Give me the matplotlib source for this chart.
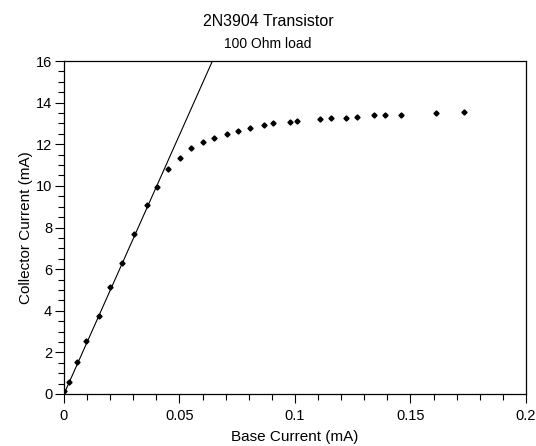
import numpy as np
import matplotlib
matplotlib.use("Agg")
import matplotlib.pyplot as plt
from matplotlib.ticker import MultipleLocator

plt.rcParams['font.family'] = ['Liberation Sans', 'DejaVu Sans']

# measured base / collector currents (mA)
base_current = [0.0, 0.002, 0.0058, 0.0095, 0.0152, 0.020, 0.025, 0.0302, 0.0359,
                0.0402, 0.0452, 0.0502, 0.0551, 0.060, 0.0649, 0.0706, 0.0755,
                0.0805, 0.0866, 0.0903, 0.0977, 0.1008, 0.1107, 0.1156, 0.1219,
                0.1267, 0.1342, 0.1391, 0.1459, 0.1612, 0.173]
collector_current = [0.12, 0.6, 1.55, 2.56, 3.75, 5.13, 6.28, 7.71, 9.1,
                     9.93, 10.8, 11.35, 11.84, 12.1, 12.31, 12.51, 12.66,
                     12.78, 12.92, 13.0, 13.06, 13.13, 13.19, 13.27, 13.27,
                     13.33, 13.4, 13.4, 13.4, 13.48, 13.54]

# linear fit through the active region (gain ~ hFE)
gain = 249.0
fit_x = [0.0, 0.2]

fig = plt.figure(figsize=(5.36, 4.46), dpi=100)
ax = fig.add_axes([0.1194, 0.1166, 0.8619, 0.7466])

ax.plot(fit_x, [gain * x for x in fit_x], color='black', lw=0.8)
ax.plot(base_current, collector_current, linestyle='none', marker='D',
        markersize=2.6, color='black')

ax.set_xlim(0, 0.2)
ax.set_ylim(0, 16)
ax.set_xticks([0, 0.05, 0.1, 0.15, 0.2])
ax.set_xticklabels(['0', '0.05', '0.1', '0.15', '0.2'])
ax.set_yticks(range(0, 17, 2))
ax.xaxis.set_minor_locator(MultipleLocator(0.01))
ax.yaxis.set_minor_locator(MultipleLocator(0.5))
ax.tick_params(which='major', direction='out', length=6.5, width=0.8, labelsize=10.5, pad=2)
ax.tick_params(axis='x', which='major', pad=4)
ax.tick_params(which='minor', direction='out', length=4, width=0.8)
for s in ax.spines.values():
    s.set_linewidth(0.9)

ax.set_xlabel('Base Current (mA)', fontsize=11, labelpad=5)
ax.set_ylabel('Collector Current (mA)', fontsize=11, labelpad=2)

fig.text(0.5, 0.951, '2N3904 Transistor', ha='center', va='center', fontsize=11.5)
fig.text(0.5, 0.901, '100 Ohm load', ha='center', va='center', fontsize=10)

fig.savefig('out.png', dpi=100)
